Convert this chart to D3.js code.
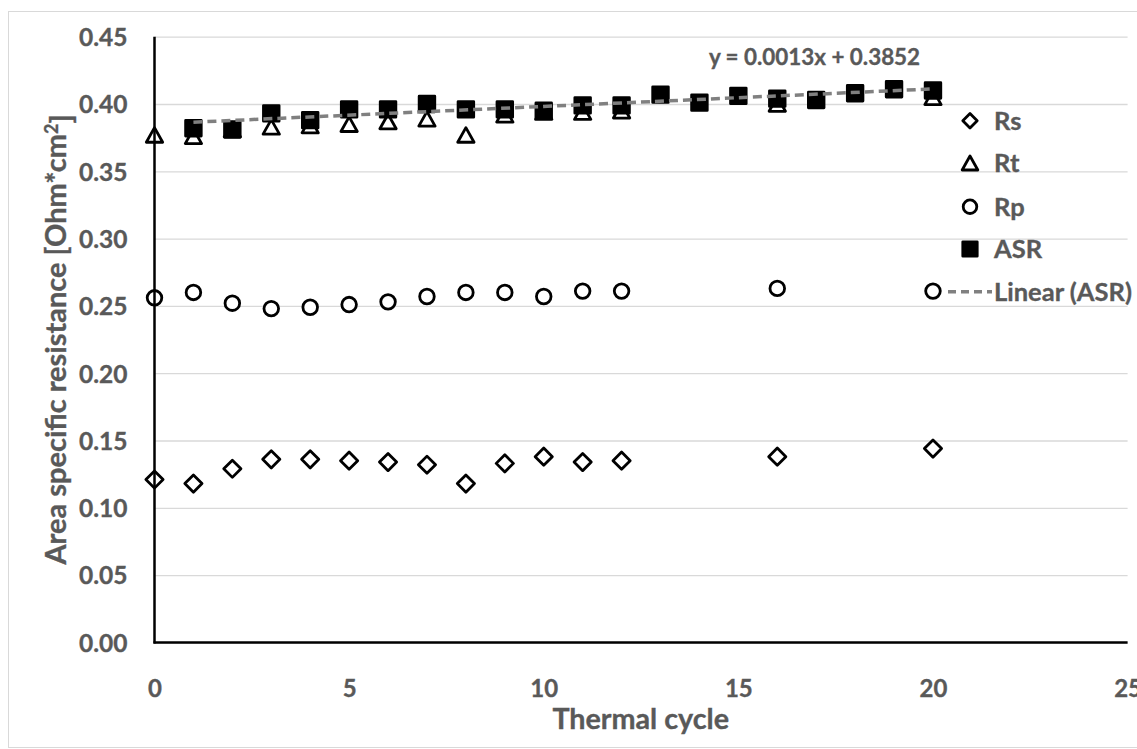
<!DOCTYPE html>
<html><head><meta charset="utf-8">
<script src="https://cdn.jsdelivr.net/npm/d3@7"></script>
<style>
html,body{margin:0;padding:0;background:#fff;}
svg{display:block;}
text{font-family:Lato,"Open Sans",sans-serif;font-weight:700;fill:#595959;stroke:#595959;stroke-width:0.35;}
</style></head>
<body><svg id="c" width="1137" height="749"></svg>
<script>
// ---- data ----
const cycles = [0,1,2,3,4,5,6,7,8,9,10,11,12,16,20];
const rsValues = [0.121,0.118,0.129,0.136,0.136,0.135,0.134,0.132,0.118,0.133,0.138,0.134,0.135,0.138,0.144];
const rpValues = [0.256,0.260,0.252,0.248,0.249,0.251,0.253,0.257,0.260,0.260,0.257,0.261,0.261,0.263,0.261];
const rtValues = [0.377,0.376,0.381,0.383,0.384,0.385,0.387,0.389,0.377,0.392,0.394,0.394,0.395,0.400,0.405];
const asrCycles = [1,2,3,4,5,6,7,8,9,10,11,12,13,14,15,16,17,18,19,20];
const asrValues = [0.382,0.381,0.393,0.388,0.396,0.396,0.400,0.396,0.396,0.395,0.399,0.399,0.407,0.401,0.406,0.404,0.403,0.408,0.411,0.410];
const trendSlope = 0.0013;
const trendIntercept = 0.3852;
const trendRange = [1, 20];
const trendLabel = "y = 0.0013x + 0.3852";
const xTicks = [0,5,10,15,20,25];
const yTicks = [0,0.05,0.10,0.15,0.20,0.25,0.30,0.35,0.40,0.45];
const xTitle = "Thermal cycle";
const legendNames = ["Rs","Rt","Rp","ASR","Linear (ASR)"];

// ---- layout ----
const svg = d3.select("#c");
const L = 154.5, R = 1127.6, T = 36.7, B = 642.4;
const x = d3.scaleLinear().domain([0,25]).range([L,R]);
const y = d3.scaleLinear().domain([0,0.45]).range([B,T]);

// outer chart border
svg.append("rect").attr("x",8.5).attr("y",11.5).attr("width",1140).attr("height",736)
  .attr("fill","#fff").attr("stroke","#d9d9d9").attr("stroke-width",1);

// gridlines
const grid = svg.append("g").attr("transform",`translate(${L},0)`)
  .call(d3.axisLeft(y).tickValues(yTicks).tickSize(-(R-L)).tickFormat(""));
grid.select(".domain").remove();
grid.selectAll("line").attr("stroke","#d9d9d9").attr("stroke-width",1.3);

// y tick labels
const ya = svg.append("g").attr("transform",`translate(${L},0)`)
  .call(d3.axisLeft(y).tickValues(yTicks).tickSize(0).tickPadding(27).tickFormat(d3.format(".2f")));
ya.select(".domain").remove();
ya.selectAll("text").attr("font-size",24.5).attr("font-family",null).attr("fill",null).attr("dy","0.36em");

// x tick labels
const xa = svg.append("g").attr("transform",`translate(0,${B})`)
  .call(d3.axisBottom(x).tickValues(xTicks).tickSize(0).tickPadding(38).tickFormat(d3.format("d")));
xa.select(".domain").remove();
xa.selectAll("text").attr("font-size",24).attr("font-family",null).attr("fill",null);

// custom Excel-like symbols
const symDiamond = {draw(ctx,s){const r=s;ctx.moveTo(0,-r);ctx.lineTo(r,0);ctx.lineTo(0,r);ctx.lineTo(-r,0);ctx.closePath();}};
const symTriangle = {draw(ctx,s){const w=s*1.12,h=s;ctx.moveTo(0,-h);ctx.lineTo(w,h);ctx.lineTo(-w,h);ctx.closePath();}};
const symSquare = {draw(ctx,s){ctx.rect(-s,-s,2*s,2*s);}};
const symCircle = {draw(ctx,s){ctx.moveTo(s,0);ctx.arc(0,0,s,0,2*Math.PI);}};

function series(xs, vs, type, size, fill){
  const g = svg.append("g");
  g.selectAll("path").data(vs.map((v,i)=>[xs[i],v])).join("path")
    .attr("transform",d=>`translate(${x(d[0])},${y(d[1])})`)
    .attr("d",d3.symbol().type(type).size(size))
    .attr("fill",fill).attr("stroke","#000").attr("stroke-width",2.8).attr("stroke-linejoin","round");
}
series(cycles, rsValues, symDiamond, 8.6, "#fff");
series(cycles, rtValues, symTriangle, 7.3, "#fff");
series(cycles, rpValues, symCircle, 7.3, "#fff");
series(asrCycles, asrValues, symSquare, 7.8, "#000");

// axis lines
svg.append("line").attr("x1",L).attr("x2",L).attr("y1",T).attr("y2",B+1)
  .attr("stroke","#000").attr("stroke-width",2.5);
svg.append("line").attr("x1",L-1).attr("x2",R).attr("y1",B).attr("y2",B)
  .attr("stroke","#000").attr("stroke-width",2.5);

// trendline
const trend = d3.line().x(d=>x(d)).y(d=>y(trendSlope*d+trendIntercept));
svg.append("path").attr("d",trend(trendRange)).attr("fill","none")
  .attr("stroke","#808080").attr("stroke-width",3.5).attr("stroke-dasharray","9,5");

// equation label
svg.append("text").attr("x",814.5).attr("y",65).attr("text-anchor","middle")
  .attr("font-size",22.4).text(trendLabel);

// axis titles
svg.append("text").attr("x",640.7).attr("y",729).attr("text-anchor","middle")
  .attr("font-size",28.7).text(xTitle);
const yt = svg.append("text").attr("transform",`translate(66,339.5) rotate(-90)`).attr("text-anchor","middle")
  .attr("font-size",29);
yt.append("tspan").text("Area specific resistance [Ohm*cm");
yt.append("tspan").attr("dy","-0.45em").attr("font-size",18).text("2");
yt.append("tspan").attr("dy","0.45em").text("]");

// legend
const legY = [120.7,163,206.7,249,291.7];
const legTypes = [symDiamond,symTriangle,symCircle,symSquare];
const legSizes = [7.2,7,6.8,7.2];
const legFills = ["#fff","#fff","#fff","#000"];
const lg = svg.append("g");
legTypes.forEach((t,i)=>{
  lg.append("path").attr("transform",`translate(970,${legY[i]})`)
    .attr("d",d3.symbol().type(t).size(legSizes[i]))
    .attr("fill",legFills[i]).attr("stroke","#000").attr("stroke-width",2.8).attr("stroke-linejoin","round");
});
lg.append("line").attr("x1",948).attr("x2",992).attr("y1",legY[4]).attr("y2",legY[4])
  .attr("stroke","#808080").attr("stroke-width",3.5).attr("stroke-dasharray","8,5");
legendNames.forEach((n,i)=>{
  lg.append("text").attr("x",994).attr("y",legY[i]).attr("dy","0.36em").attr("font-size",25.5).text(n);
});
</script></body></html>
